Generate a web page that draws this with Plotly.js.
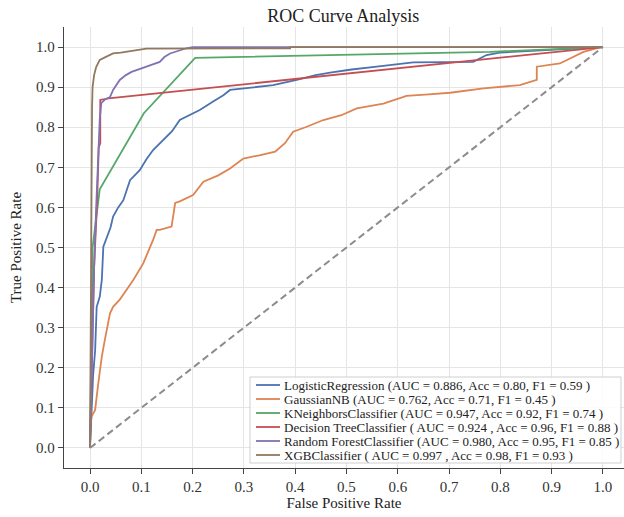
<!DOCTYPE html>
<html>
<head>
<meta charset="utf-8">
<script src="https://cdn.plot.ly/plotly-3.0.1.min.js"></script>
<style>html,body{margin:0;padding:0;background:#fff;}#chart{width:624px;height:517px;}</style>
</head>
<body>
<div id="chart"></div>
<script>
// ---- data ----
const labels = [
  "LogisticRegression (AUC = 0.886, Acc = 0.80, F1 = 0.59 )",
  "GaussianNB (AUC = 0.762, Acc = 0.71, F1 = 0.45 )",
  "KNeighborsClassifier (AUC = 0.947, Acc = 0.92, F1 = 0.74 )",
  "Decision TreeClassifier ( AUC = 0.924 , Acc = 0.96, F1 = 0.88 )",
  "Random ForestClassifier (AUC = 0.980, Acc = 0.95, F1 = 0.85 )",
  "XGBClassifier ( AUC = 0.997 , Acc = 0.98, F1 = 0.93 )"
];
const lrFpr = [0,0.003,0.006,0.01,0.012,0.013,0.019,0.021,0.023,0.026,0.033,0.04,0.045,0.055,0.065,0.078,0.097,0.11,0.123,0.143,0.16,0.175,0.195,0.214,0.24,0.26,0.273,0.305,0.357,0.403,0.44,0.468,0.51,0.559,0.63,0.747,0.773,0.799,0.897,1];
const lrTpr = [0,0.1,0.18,0.244,0.3,0.352,0.377,0.4,0.419,0.502,0.527,0.55,0.577,0.6,0.618,0.668,0.693,0.72,0.743,0.768,0.79,0.818,0.83,0.843,0.864,0.88,0.893,0.897,0.905,0.918,0.93,0.936,0.944,0.951,0.962,0.963,0.98,0.986,0.993,1];
const gnbFpr = [0,0,0.003,0.01,0.016,0.023,0.029,0.033,0.039,0.045,0.058,0.071,0.085,0.104,0.117,0.123,0.13,0.136,0.159,0.162,0.166,0.175,0.201,0.221,0.25,0.273,0.299,0.33,0.361,0.38,0.396,0.42,0.455,0.49,0.52,0.572,0.617,0.66,0.702,0.767,0.8,0.838,0.871,0.871,0.916,0.942,0.962,0.994,1];
const gnbTpr = [0,0.05,0.078,0.095,0.16,0.228,0.27,0.294,0.336,0.352,0.37,0.394,0.42,0.461,0.5,0.519,0.544,0.544,0.552,0.581,0.611,0.615,0.631,0.664,0.68,0.697,0.722,0.73,0.739,0.76,0.789,0.8,0.818,0.83,0.847,0.859,0.878,0.882,0.886,0.897,0.9,0.905,0.918,0.951,0.959,0.976,0.988,0.999,1];
const knnFpr = [0,0.005,0.019,0.105,0.205,0.78,1];
const knnTpr = [0,0.5,0.645,0.835,0.973,0.988,1];
const dtFpr = [0,0.008,0.014,0.017,0.02,0.02,0.036,1];
const dtTpr = [0,0.45,0.62,0.75,0.76,0.868,0.872,1];
const rfFpr = [0,0.003,0.008,0.012,0.016,0.019,0.022,0.03,0.039,0.045,0.058,0.07,0.081,0.095,0.11,0.136,0.145,0.156,0.17,0.188,0.2,1];
const rfTpr = [0,0.2,0.45,0.6,0.75,0.82,0.86,0.87,0.875,0.893,0.918,0.93,0.938,0.945,0.951,0.963,0.975,0.984,0.99,0.997,1,1];
const xgbFpr = [0,0.001,0.003,0.004,0.005,0.008,0.012,0.019,0.03,0.045,0.06,0.071,0.09,0.11,0.39,0.39,1];
const xgbTpr = [0,0.3,0.6,0.85,0.9,0.93,0.95,0.968,0.975,0.984,0.986,0.988,0.993,0.996,0.997,1,1];
const chanceX = [0,1];
const chanceY = [0,1];
const xTicks = [0,0.1,0.2,0.3,0.4,0.5,0.6,0.7,0.8,0.9,1.0];
const yTicks = [0,0.1,0.2,0.3,0.4,0.5,0.6,0.7,0.8,0.9,1.0];

// ---- styling ----
const colors = ["#4c72b0","#dd8452","#55a868","#c44e52","#8172b3","#937860"];
const series = [[lrFpr,lrTpr],[gnbFpr,gnbTpr],[knnFpr,knnTpr],[dtFpr,dtTpr],[rfFpr,rfTpr],[xgbFpr,xgbTpr]];
const FONT = "Liberation Serif, Times New Roman, serif";

const W = 624, H = 517, ML = 64, MR = 0, MT = 27, MB = 49;
const PW = W - ML - MR, PH = H - MT - MB;
const px = v => (v - ML) / PW;          // pixel -> paper x
const py = v => (H - MB - v) / PH;      // pixel -> paper y

const traces = series.map((s, i) => ({
  x: s[0], y: s[1], type: "scatter", mode: "lines",
  line: {color: colors[i], width: 1.8},
  name: labels[i], showlegend: false, hoverinfo: "skip"
}));
traces.push({x: chanceX, y: chanceY, type: "scatter", mode: "lines",
  line: {color: "#8c8c8c", width: 2, dash: "7px,4px"}, showlegend: false, hoverinfo: "skip"});

// manual legend (compact like the reference)
const shapes = [{type: "rect", xref: "paper", yref: "paper",
  x0: px(250), x1: px(621), y0: py(463), y1: py(377),
  line: {color: "#cfcfcf", width: 1}, fillcolor: "rgba(255,255,255,0.85)", layer: "above"}];
const annotations = [];
labels.forEach((lab, i) => {
  const rowY = 385 + i * 14;
  shapes.push({type: "line", xref: "paper", yref: "paper",
    x0: px(256), x1: px(280), y0: py(rowY), y1: py(rowY),
    line: {color: colors[i], width: 1.8}, layer: "above"});
  annotations.push({xref: "paper", yref: "paper", x: px(282), y: py(rowY),
    xanchor: "left", yanchor: "middle", showarrow: false, text: lab,
    font: {family: FONT, size: 13, color: "#222"}});
});

const layout = {
  width: W, height: H,
  margin: {l: ML, r: MR, t: MT, b: MB, pad: 0},
  paper_bgcolor: "#fff", plot_bgcolor: "#fff",
  title: {text: "ROC Curve Analysis", font: {family: FONT, size: 18, color: "#222"},
    xref: "container", x: 0.55, xanchor: "center", yref: "container", y: 1 - 16/517, yanchor: "middle"},
  xaxis: {range: [-0.0507, 1.041], tickvals: xTicks, ticktext: xTicks.map(v => v.toFixed(1)),
    showgrid: true, gridcolor: "#e5e5e5", gridwidth: 1, zeroline: false,
    showline: true, linecolor: "#444", linewidth: 1.3, ticks: "outside", ticklen: 5, tickcolor: "#444",
    tickfont: {family: FONT, size: 15, color: "#333"},
    title: {text: "False Positive Rate", font: {family: FONT, size: 15, color: "#222"}, standoff: 1}},
  yaxis: {range: [-0.05, 1.05], tickvals: yTicks, ticktext: yTicks.map(v => v.toFixed(1)),
    showgrid: true, gridcolor: "#e5e5e5", gridwidth: 1, zeroline: false,
    showline: true, linecolor: "#444", linewidth: 1.3, ticks: "outside", ticklen: 5, tickcolor: "#444",
    tickfont: {family: FONT, size: 15, color: "#333"},
    title: {text: "True Positive Rate", font: {family: FONT, size: 15, color: "#222"}, standoff: 10}},
  shapes: shapes, annotations: annotations, showlegend: false
};
Plotly.newPlot("chart", traces, layout, {staticPlot: true, displayModeBar: false});
</script>
</body>
</html>
